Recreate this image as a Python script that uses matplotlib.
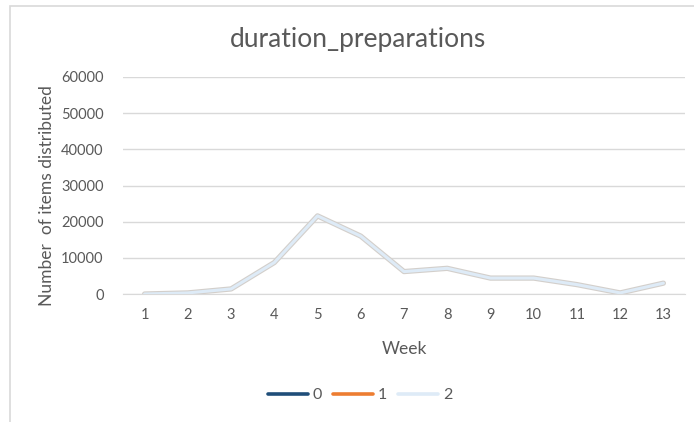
import matplotlib
matplotlib.use("Agg")
import matplotlib.pyplot as plt
import matplotlib.patheffects as pe
from matplotlib.patches import Rectangle

weeks = [1, 2, 3, 4, 5, 6, 7, 8, 9, 10, 11, 12, 13]
series_names = ["0", "1", "2"]
items_0 = [0, 300, 1400, 8700, 21600, 16000, 6200, 7100, 4400, 4400, 2600, 300, 3000]
items_1 = [0, 300, 1400, 8700, 21600, 16000, 6200, 7100, 4400, 4400, 2600, 300, 3000]
items_2 = [0, 300, 1400, 8700, 21600, 16000, 6200, 7100, 4400, 4400, 2600, 300, 3000]
y_ticks = [0, 10000, 20000, 30000, 40000, 50000, 60000]

colors = ["#1f4e79", "#ed7d31", "#deebf7"]
text_color = "#595959"
grid_color = "#d9d9d9"

plt.rcParams["font.family"] = ["Lato", "DejaVu Sans"]

fig = plt.figure(figsize=(6.94, 4.22), dpi=100)
fig.patch.set_facecolor("white")

# chart frame (top and left edges visible)
fig.add_artist(Rectangle((10 / 694, -0.1), 1.2, (422 - 6) / 422 + 0.1,
                         transform=fig.transFigure, fill=False,
                         edgecolor="#d9d9d9", linewidth=1.2))

ax = fig.add_axes([123 / 694, (422 - 294) / 422, (685 - 123) / 694, (294 - 77) / 422])
x = list(range(len(weeks)))

ax.plot(x, items_0, color=colors[0], linewidth=2.2, label=series_names[0],
        solid_capstyle="round")
ax.plot(x, items_1, color=colors[1], linewidth=2.2, label=series_names[1],
        solid_capstyle="round")
ax.plot(x, items_2, color=colors[2], linewidth=2.2, label=series_names[2],
        solid_capstyle="round",
        path_effects=[pe.Stroke(linewidth=3.8, foreground="#d3cfcb"), pe.Normal()])

ax.set_xlim(-0.5, len(weeks) - 0.5)
ax.set_ylim(0, 60000)
ax.set_yticks(y_ticks)
ax.set_yticklabels([str(v) for v in y_ticks])
ax.set_xticks(x)
ax.set_xticklabels([str(w) for w in weeks])
ax.yaxis.grid(True, color=grid_color, linewidth=1.0)
ax.set_axisbelow(True)
for s in ["top", "right", "left"]:
    ax.spines[s].set_visible(False)
ax.spines["bottom"].set_color(grid_color)
ax.tick_params(axis="both", length=0, colors=text_color, labelsize=10.5)
ax.tick_params(axis="x", pad=10)
ax.tick_params(axis="y", pad=14)

ax.set_xlabel("Week", color=text_color, fontsize=12.5, labelpad=14)
ax.set_ylabel("Number  of items distributed", color=text_color, fontsize=12.5,
              va="center")
ax.yaxis.set_label_coords(-0.135, 0.452)

fig.text(358 / 694, 1 - 40 / 422, "duration_preparations", ha="center", va="center",
         color=text_color, fontsize=19)

leg = fig.legend(loc="center", bbox_to_anchor=(360 / 694, 1 - 395 / 422), ncol=3,
                 frameon=False, fontsize=11.5, handlelength=2.5, handletextpad=0.3,
                 columnspacing=0.7)
for t in leg.get_texts():
    t.set_color(text_color)
for h in leg.get_lines():
    h.set_linewidth(2.6)
    h.set_path_effects([])

fig.savefig("out.png", dpi=100, facecolor="white")
